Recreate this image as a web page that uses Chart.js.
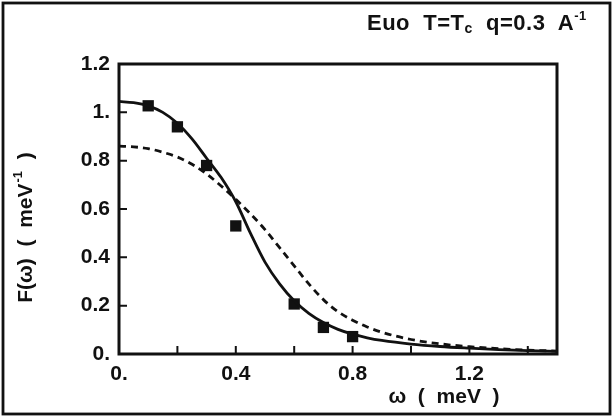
<!DOCTYPE html>
<html>
<head>
<meta charset="utf-8">
<script src="https://cdn.jsdelivr.net/npm/chart.js@4/dist/chart.umd.min.js"></script>
<style>
  body { margin: 0; background: #fff; }
  #wrap { position: relative; width: 613px; height: 417px; }
  #title {
    position: absolute; left: 367px; top: 10px;
    font: bold 22px "Liberation Sans", Arial, sans-serif; color: #111;
    white-space: nowrap; line-height: 26px; letter-spacing: 0.5px;
  }
  #title sub { font-size: 14px; line-height: 0; vertical-align: -3px; }
  #title sup { font-size: 13px; line-height: 0; vertical-align: 10px; }
</style>
</head>
<body>
<div id="wrap">
  <canvas id="chart" width="613" height="417"></canvas>
  <div id="title">Euo&nbsp; T=T<sub>c</sub>&nbsp; q=0.3&nbsp; A<sup>-1</sup></div>
</div>
<script>
"use strict";

// 曲線 (実線 / 破線) — 図から読み取った値
const omega   = [0, 0.05, 0.1, 0.15, 0.2, 0.25, 0.3, 0.35, 0.4, 0.45, 0.5, 0.55, 0.6, 0.65, 0.7, 0.75, 0.8, 0.85, 0.9, 1.0, 1.1, 1.2, 1.3, 1.4, 1.5];
const solidF  = [1.045, 1.04, 1.027, 1.0, 0.955, 0.89, 0.81, 0.73, 0.63, 0.5, 0.38, 0.29, 0.22, 0.168, 0.13, 0.102, 0.082, 0.067, 0.056, 0.041, 0.031, 0.024, 0.018, 0.014, 0.011];
const dashedF = [0.86, 0.857, 0.85, 0.835, 0.815, 0.785, 0.745, 0.695, 0.64, 0.58, 0.515, 0.44, 0.365, 0.29, 0.225, 0.175, 0.14, 0.112, 0.09, 0.06, 0.042, 0.03, 0.022, 0.016, 0.012];

// 測定点 (■)
const pointOmega = [0.1, 0.2, 0.3, 0.4, 0.6, 0.7, 0.8];
const pointF     = [1.027, 0.94, 0.78, 0.53, 0.207, 0.11, 0.072];

// 目盛り
const xTicks      = [0, 0.2, 0.4, 0.6, 0.8, 1.0, 1.2, 1.4];
const xTickLabels = ["0.", "", "0.4", "", "0.8", "", "1.2", ""];
const yTicks      = [0, 0.2, 0.4, 0.6, 0.8, 1.0, 1.2];
const yTickLabels = ["0.", "0.2", "0.4", "0.6", "0.8", "1.", "1.2"];

const INK = "#111";
const FONT_FAMILY = '"Liberation Sans", Arial, sans-serif';
const tickFont = { family: FONT_FAMILY, size: 21, weight: "bold" };

const toXY = (xs, ys) => xs.map((x, i) => ({ x: x, y: ys[i] }));

// 枠・内向きの目盛り線・軸ラベルを描く
const framePlugin = {
  id: "frame",
  afterDraw(chart) {
    const { ctx, chartArea: a, scales } = chart;
    ctx.save();
    ctx.strokeStyle = INK;
    ctx.lineWidth = 2.8;
    ctx.strokeRect(3, 3, 607, 411);     // 外枠
    ctx.lineWidth = 3;
    ctx.strokeRect(a.left, a.top, a.right - a.left, a.bottom - a.top);

    ctx.lineWidth = 2;
    ctx.beginPath();
    xTicks.slice(1).forEach(v => {
      const px = scales.x.getPixelForValue(v);
      ctx.moveTo(px, a.bottom);
      ctx.lineTo(px, a.bottom - 8);
    });
    yTicks.slice(1, -1).forEach(v => {
      const py = scales.y.getPixelForValue(v);
      ctx.moveTo(a.left, py);
      ctx.lineTo(a.left + 8, py);
    });
    ctx.stroke();

    ctx.fillStyle = INK;
    ctx.textBaseline = "middle";

    // x 軸ラベル
    ctx.font = `bold 21px ${FONT_FAMILY}`;
    ctx.textAlign = "center";
    ctx.fillText("ω  (  meV  )", 444, 397);

    // y 軸ラベル (回転)
    ctx.translate(26, 228);
    ctx.rotate(-Math.PI / 2);
    ctx.textAlign = "left";
    const main = "F(ω)  (  meV";
    const tail = "  )";
    ctx.font = `bold 21px ${FONT_FAMILY}`;
    const wMain = ctx.measureText(main).width;
    ctx.font = `bold 13px ${FONT_FAMILY}`;
    const wSup = ctx.measureText("-1").width;
    ctx.font = `bold 21px ${FONT_FAMILY}`;
    const wTail = ctx.measureText(tail).width;
    const start = -(wMain + wSup + wTail) / 2;
    ctx.fillText(main, start, 0);
    ctx.font = `bold 13px ${FONT_FAMILY}`;
    ctx.fillText("-1", start + wMain + 1, -8);
    ctx.font = `bold 21px ${FONT_FAMILY}`;
    ctx.fillText(tail, start + wMain + wSup + 1, 0);
    ctx.restore();
  }
};

new Chart(document.getElementById("chart"), {
  type: "scatter",
  data: {
    datasets: [
      {
        label: "solid",
        data: toXY(omega, solidF),
        showLine: true,
        borderColor: INK,
        borderWidth: 2.8,
        pointRadius: 0,
        cubicInterpolationMode: "monotone"
      },
      {
        label: "dashed",
        data: toXY(omega, dashedF),
        showLine: true,
        borderColor: INK,
        borderWidth: 2.8,
        borderDash: [7, 5],
        pointRadius: 0,
        cubicInterpolationMode: "monotone"
      },
      {
        label: "data",
        data: toXY(pointOmega, pointF),
        showLine: false,
        pointStyle: "rect",
        pointRadius: 8,
        backgroundColor: INK,
        borderColor: INK,
        borderWidth: 0
      }
    ]
  },
  options: {
    responsive: false,
    animation: false,
    layout: { padding: { top: 64, right: 56, left: 0, bottom: 0 } },
    plugins: {
      legend: { display: false },
      tooltip: { enabled: false },
      title: { display: false }
    },
    scales: {
      x: {
        type: "linear",
        min: 0,
        max: 1.5,
        afterFit: s => { s.height = 63; },
        afterBuildTicks: s => { s.ticks = xTicks.map(v => ({ value: v })); },
        grid: { display: false, drawTicks: false },
        border: { display: false },
        ticks: {
          padding: 8,
          color: INK,
          font: tickFont,
          maxRotation: 0,
          autoSkip: false,
          callback: (v, i) => xTickLabels[i]
        }
      },
      y: {
        min: 0,
        max: 1.2,
        afterFit: s => { s.width = 119; },
        afterBuildTicks: s => { s.ticks = yTicks.map(v => ({ value: v })); },
        grid: { display: false, drawTicks: false },
        border: { display: false },
        ticks: {
          padding: 9,
          color: INK,
          font: tickFont,
          autoSkip: false,
          callback: (v, i) => yTickLabels[i]
        }
      }
    }
  },
  plugins: [framePlugin]
});
</script>
</body>
</html>
